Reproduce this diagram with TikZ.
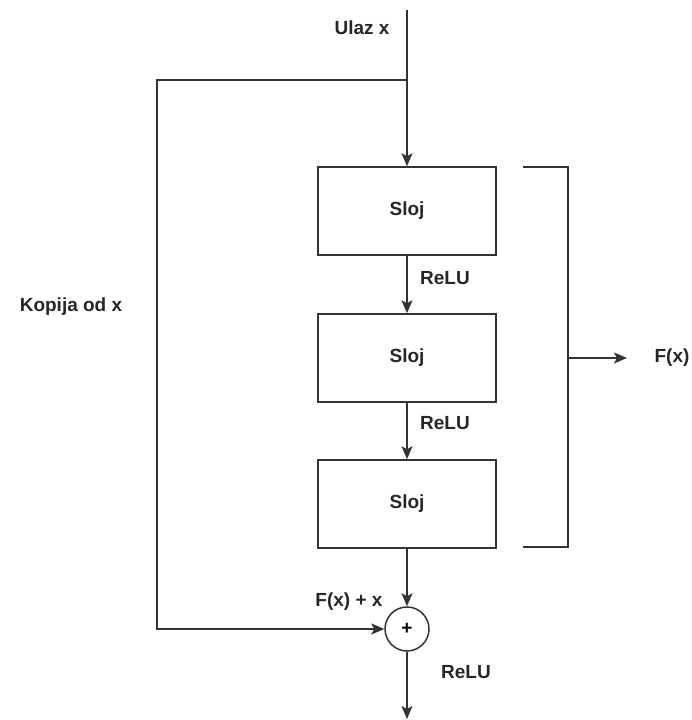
\documentclass[tikz,border=0pt]{standalone}
\usepackage{fontspec}
\setmainfont{Liberation Sans}
\usetikzlibrary{arrows.meta}
\definecolor{ln}{HTML}{333333}
\begin{document}
\begin{tikzpicture}[x=1pt,y=-1pt,
  line width=1.5pt,
  arr/.style={draw=ln,-{Stealth[length=13pt,width=11pt,inset=3pt]}},
  plain/.style={draw=ln},
  layerbox/.style={draw=ln,rectangle,minimum width=178pt,minimum height=88pt,inner sep=0pt,font=\fontsize{19}{22}\selectfont\bfseries,text=black!85},
  sumnode/.style={draw=ln,circle,minimum size=44pt,inner sep=0pt,font=\fontsize{19}{22}\selectfont\bfseries},
  lbl/.style={inner sep=0pt,font=\fontsize{19}{22}\selectfont\bfseries,text=black!85}]
\useasboundingbox (0,0) rectangle (692,720);
\node[layerbox] (b1) at (407,211) {Sloj};
\node[layerbox] (b2) at (407,358) {Sloj};
\node[layerbox] (b3) at (407,504) {Sloj};
\node[sumnode] (sum) at (407,629) {+};
\coordinate (top) at (407,10);
\coordinate (split) at (407,80);
\coordinate (cl) at (157,80);
\coordinate (out) at (407,719);
\coordinate (br1) at (523,167);
\coordinate (br2) at (568,167);
\coordinate (br3) at (568,547);
\coordinate (br4) at (523,547);
\coordinate (brm) at (568,358);
\coordinate (fx) at (627,358);
\draw[arr] (top) -- (b1.north);
\draw[arr] (b1) -- (b2);
\draw[arr] (b2) -- (b3);
\draw[arr] (b3) -- (sum);
\draw[arr] (sum) -- (out);
\draw[arr] (split) -- (cl) |- (sum.west);
\draw[plain] (br1) -- (br2) -- (br3) -- (br4);
\draw[arr] (brm) -- (fx);
\node[lbl] (l1) at (362,28) {Ulaz x};
\node[lbl] (l2) at (445,278) {ReLU};
\node[lbl] (l3) at (445,423) {ReLU};
\node[lbl] (l4) at (71,307) {Kopija od x};
\node[lbl] (l5) at (349,602) {F(x) + x};
\node[lbl] (l6) at (466,672) {ReLU};
\node[lbl] (l7) at (672,358) {F(x)};
\end{tikzpicture}
\end{document}
